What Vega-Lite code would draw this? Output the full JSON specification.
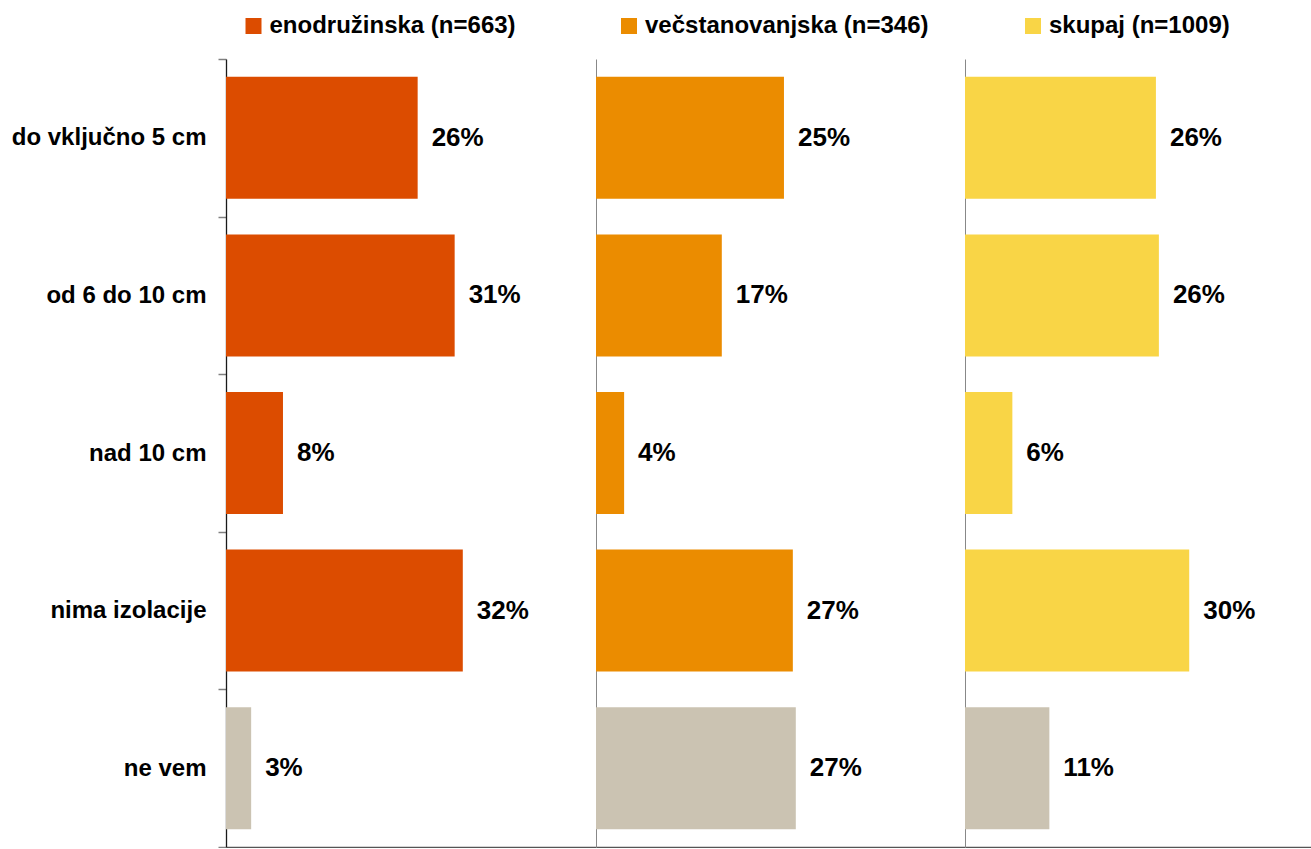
{
  "$schema": "https://vega.github.io/schema/vega-lite/v6.json",
  "autosize": {"type": "pad"},
  "padding": {"left": 11, "top": 14, "right": 0, "bottom": 0},
  "background": "white",
  "config": {"view": {"stroke": null}, "font": "Liberation Sans", "concat": {"spacing": 0}},
  "spacing": 0,
  "data": {"values": [
    {"serija": "enodružinska (n=663)", "kategorija": "do vključno 5 cm", "delez": 0.259},
    {"serija": "enodružinska (n=663)", "kategorija": "od 6 do 10 cm", "delez": 0.309},
    {"serija": "enodružinska (n=663)", "kategorija": "nad 10 cm", "delez": 0.077},
    {"serija": "enodružinska (n=663)", "kategorija": "nima izolacije", "delez": 0.320},
    {"serija": "enodružinska (n=663)", "kategorija": "ne vem", "delez": 0.034},
    {"serija": "večstanovanjska (n=346)", "kategorija": "do vključno 5 cm", "delez": 0.254},
    {"serija": "večstanovanjska (n=346)", "kategorija": "od 6 do 10 cm", "delez": 0.170},
    {"serija": "večstanovanjska (n=346)", "kategorija": "nad 10 cm", "delez": 0.038},
    {"serija": "večstanovanjska (n=346)", "kategorija": "nima izolacije", "delez": 0.266},
    {"serija": "večstanovanjska (n=346)", "kategorija": "ne vem", "delez": 0.270},
    {"serija": "skupaj (n=1009)", "kategorija": "do vključno 5 cm", "delez": 0.258},
    {"serija": "skupaj (n=1009)", "kategorija": "od 6 do 10 cm", "delez": 0.262},
    {"serija": "skupaj (n=1009)", "kategorija": "nad 10 cm", "delez": 0.064},
    {"serija": "skupaj (n=1009)", "kategorija": "nima izolacije", "delez": 0.303},
    {"serija": "skupaj (n=1009)", "kategorija": "ne vem", "delez": 0.114}
  ]},
  "hconcat": [
    {
      "width": 370, "height": 788,
      "transform": [{"filter": "datum.serija === 'enodružinska (n=663)'"}],
      "encoding": {
        "y": {"field": "kategorija", "type": "nominal", "sort": ["do vključno 5 cm", "od 6 do 10 cm", "nad 10 cm", "nima izolacije", "ne vem"],
              "scale": {"paddingInner": 0, "paddingOuter": 0},
              "axis": {"title": null, "tickBand": "extent", "domainColor": "#1a1a1a", "domainWidth": 1.3, "tickColor": "#808080", "tickSize": 8, "tickWidth": 1.5, "labelFont": "Liberation Sans", "labelFontSize": 24, "labelFontWeight": "bold", "labelColor": "#000000", "labelPadding": 12, "labelLimit": 0}},
        "x": {"field": "delez", "type": "quantitative", "scale": {"domain": [0, 0.5], "nice": false, "zero": true},
              "axis": {"title": null, "labels": false, "ticks": false, "grid": false, "domainColor": "#555555", "domainWidth": 1.5}}
      },
      "layer": [
        {"mark": {"type": "bar", "height": {"band": 0.774}},
         "encoding": {"color": {"condition": {"test": "datum.kategorija === 'ne vem'", "value": "#CBC3B2"},
           "field": "serija", "type": "nominal",
           "scale": {"domain": ["enodružinska (n=663)"], "range": ["#DC4C00"]},
           "legend": {"title": null, "orient": "none", "legendX": 15.5, "legendY": -45, "symbolType": "square", "symbolSize": 256, "symbolStrokeWidth": 0, "symbolOpacity": 1, "labelFont": "Liberation Sans", "labelFontSize": 24, "labelFontWeight": "bold", "labelColor": "#000000", "labelOffset": 4, "labelLimit": 0, "padding": 0}}}},
        {"mark": {"type": "text", "align": "left", "baseline": "middle", "dx": 14, "font": "Liberation Sans", "fontSize": 26, "fontWeight": "bold", "color": "#000000"},
         "encoding": {"text": {"field": "delez", "type": "quantitative", "format": ".0%"}}}
      ]
    },
    {
      "width": 369, "height": 788,
      "transform": [{"filter": "datum.serija === 'večstanovanjska (n=346)'"}],
      "encoding": {
        "y": {"field": "kategorija", "type": "nominal", "sort": ["do vključno 5 cm", "od 6 do 10 cm", "nad 10 cm", "nima izolacije", "ne vem"],
              "scale": {"paddingInner": 0, "paddingOuter": 0},
              "axis": {"title": null, "labels": false, "ticks": false, "domainColor": "#888888", "domainWidth": 1}},
        "x": {"field": "delez", "type": "quantitative", "scale": {"domain": [0, 0.49865], "nice": false, "zero": true},
              "axis": {"title": null, "labels": false, "ticks": false, "grid": false, "domainColor": "#555555", "domainWidth": 1.5}}
      },
      "layer": [
        {"mark": {"type": "bar", "height": {"band": 0.774}},
         "encoding": {"color": {"condition": {"test": "datum.kategorija === 'ne vem'", "value": "#CBC3B2"},
           "field": "serija", "type": "nominal",
           "scale": {"domain": ["večstanovanjska (n=346)"], "range": ["#EB8C00"]},
           "legend": {"title": null, "orient": "none", "legendX": 21, "legendY": -45, "symbolType": "square", "symbolSize": 256, "symbolStrokeWidth": 0, "symbolOpacity": 1, "labelFont": "Liberation Sans", "labelFontSize": 24, "labelFontWeight": "bold", "labelColor": "#000000", "labelOffset": 4, "labelLimit": 0, "padding": 0}}}},
        {"mark": {"type": "text", "align": "left", "baseline": "middle", "dx": 14, "font": "Liberation Sans", "fontSize": 26, "fontWeight": "bold", "color": "#000000"},
         "encoding": {"text": {"field": "delez", "type": "quantitative", "format": ".0%"}}}
      ]
    },
    {
      "width": 346, "height": 788,
      "transform": [{"filter": "datum.serija === 'skupaj (n=1009)'"}],
      "encoding": {
        "y": {"field": "kategorija", "type": "nominal", "sort": ["do vključno 5 cm", "od 6 do 10 cm", "nad 10 cm", "nima izolacije", "ne vem"],
              "scale": {"paddingInner": 0, "paddingOuter": 0},
              "axis": {"title": null, "labels": false, "ticks": false, "domainColor": "#888888", "domainWidth": 1}},
        "x": {"field": "delez", "type": "quantitative", "scale": {"domain": [0, 0.46757], "nice": false, "zero": true},
              "axis": {"title": null, "labels": false, "ticks": false, "grid": false, "domainColor": "#555555", "domainWidth": 1.5}}
      },
      "layer": [
        {"mark": {"type": "bar", "height": {"band": 0.774}},
         "encoding": {"color": {"condition": {"test": "datum.kategorija === 'ne vem'", "value": "#CBC3B2"},
           "field": "serija", "type": "nominal",
           "scale": {"domain": ["skupaj (n=1009)"], "range": ["#F9D546"]},
           "legend": {"title": null, "orient": "none", "legendX": 56, "legendY": -45, "symbolType": "square", "symbolSize": 256, "symbolStrokeWidth": 0, "symbolOpacity": 1, "labelFont": "Liberation Sans", "labelFontSize": 24, "labelFontWeight": "bold", "labelColor": "#000000", "labelOffset": 4, "labelLimit": 0, "padding": 0}}}},
        {"mark": {"type": "text", "align": "left", "baseline": "middle", "dx": 14, "font": "Liberation Sans", "fontSize": 26, "fontWeight": "bold", "color": "#000000"},
         "encoding": {"text": {"field": "delez", "type": "quantitative", "format": ".0%"}}}
      ]
    }
  ],
  "resolve": {"scale": {"color": "independent", "x": "independent", "y": "independent"}, "legend": {"color": "independent"}}
}
